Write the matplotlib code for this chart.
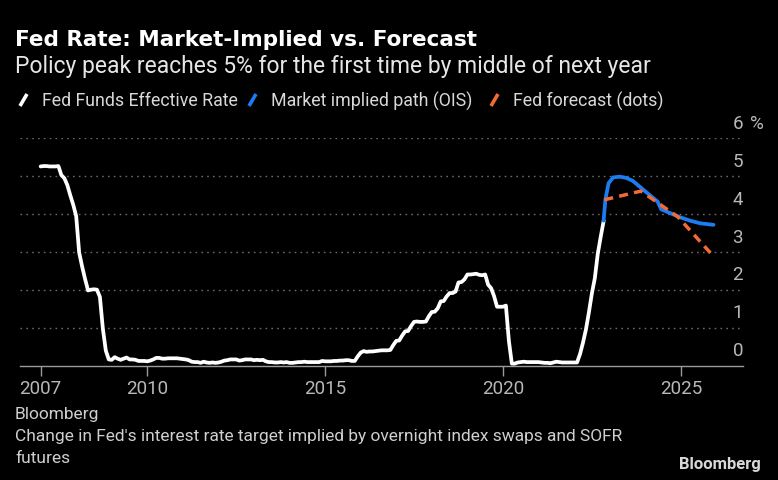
import numpy as np
import matplotlib
matplotlib.use('Agg')
import matplotlib.pyplot as plt
from matplotlib.lines import Line2D

# Fed funds effective rate, monthly, Jan 2007 - Nov 2022 (%)
ffer = [
    5.25, 5.26, 5.26, 5.25, 5.25, 5.25, 5.26, 5.02, 4.94, 4.76, 4.49, 4.24,  # 2007
    3.94, 2.98, 2.61, 2.28, 1.98, 2.00, 2.01, 2.00, 1.81, 0.97, 0.39, 0.16,  # 2008
    0.15, 0.22, 0.18, 0.15, 0.18, 0.21, 0.16, 0.16, 0.15, 0.12, 0.12, 0.12,  # 2009
    0.11, 0.13, 0.16, 0.20, 0.20, 0.18, 0.18, 0.19, 0.19, 0.19, 0.19, 0.18,  # 2010
    0.17, 0.16, 0.14, 0.10, 0.09, 0.09, 0.07, 0.10, 0.08, 0.07, 0.08, 0.07,  # 2011
    0.08, 0.10, 0.13, 0.14, 0.16, 0.16, 0.16, 0.13, 0.14, 0.16, 0.16, 0.16,  # 2012
    0.14, 0.15, 0.14, 0.15, 0.11, 0.09, 0.09, 0.08, 0.08, 0.09, 0.08, 0.09,  # 2013
    0.07, 0.07, 0.08, 0.09, 0.09, 0.10, 0.09, 0.09, 0.09, 0.09, 0.09, 0.12,  # 2014
    0.11, 0.11, 0.11, 0.12, 0.12, 0.13, 0.13, 0.14, 0.14, 0.12, 0.12, 0.24,  # 2015
    0.34, 0.38, 0.36, 0.37, 0.37, 0.38, 0.39, 0.40, 0.40, 0.40, 0.41, 0.54,  # 2016
    0.65, 0.66, 0.79, 0.90, 0.91, 1.04, 1.15, 1.16, 1.15, 1.15, 1.16, 1.30,  # 2017
    1.41, 1.42, 1.51, 1.69, 1.70, 1.82, 1.91, 1.91, 1.95, 2.19, 2.20, 2.27,  # 2018
    2.40, 2.40, 2.41, 2.42, 2.39, 2.38, 2.40, 2.13, 2.04, 1.83, 1.55, 1.55,  # 2019
    1.55, 1.58, 0.65, 0.05, 0.05, 0.08, 0.09, 0.10, 0.09, 0.09, 0.09, 0.09,  # 2020
    0.09, 0.08, 0.07, 0.07, 0.06, 0.08, 0.10, 0.09, 0.08, 0.08, 0.08, 0.08,  # 2021
    0.08, 0.08, 0.30, 0.60, 0.95, 1.40, 1.90, 2.30, 2.95, 3.40, 3.82,        # 2022
]
ffer_x = 2007 + np.arange(len(ffer)) / 12

# market implied path (OIS / SOFR futures)
ois_x = [2022.83, 2022.88, 2022.97, 2023.1, 2023.28, 2023.46, 2023.65, 2023.84,
         2024.12, 2024.35, 2024.45, 2024.7, 2024.98, 2025.26, 2025.55, 2025.92]
ois = [3.82, 4.37, 4.81, 4.96, 4.98, 4.95, 4.87, 4.72,
       4.5, 4.32, 4.12, 4.02, 3.91, 3.82, 3.75, 3.71]

# Fed dot plot median
dots_x = [2022.85, 2023.88, 2024.92, 2025.92]
dots = [4.37, 4.6, 3.92, 2.88]

yticks = [0, 1, 2, 3, 4, 5, 6]
xticks = [2007, 2010, 2015, 2020, 2025]

plt.rcParams['font.family'] = ['Roboto', 'DejaVu Sans']

WHITE = '#ffffff'
BLUE = '#1c7cf2'
ORANGE = '#f26a36'
GREY = '#b8b8b8'

W, H = 778, 481
fig = plt.figure(figsize=(W / 100, H / 100), dpi=100, facecolor='black')
ax = fig.add_axes([20 / W, 1 - 366.5 / H, (743 - 20) / W, (366.5 - 139) / H])
ax.set_facecolor('black')

for v in yticks[1:]:
    ax.axhline(v, color='#6a6a6a', lw=1, ls=(0, (1.2, 3)), zorder=1)

ax.plot(ffer_x, ffer, color=WHITE, lw=2.7, solid_capstyle='round', zorder=3)
ax.plot(ois_x, ois, color=BLUE, lw=2.7, solid_capstyle='round', zorder=4)
ax.plot(dots_x, dots, color=ORANGE, lw=2.5, ls=(0, (2.6, 1.8)), zorder=5)

ax.set_xlim(2006.42, 2026.75)
ax.set_ylim(0, 6)
for s in ['top', 'right', 'left']:
    ax.spines[s].set_visible(False)
ax.spines['bottom'].set_color('#9a9a9a')
ax.spines['bottom'].set_linewidth(1)
ax.set_yticks([])
ax.set_xticks(xticks)
ax.set_xticklabels([str(t) for t in xticks], fontsize=13.5)
ax.tick_params(axis='x', colors='#9a9a9a', length=7, width=1, pad=3, labelcolor=GREY)

for v in yticks:
    ax.text(1.0, v + 0.4, str(v), transform=ax.get_yaxis_transform(),
            ha='right', va='center', color=GREY, fontsize=13.5, clip_on=False)
ax.text(1.01, 6.4, '%', transform=ax.get_yaxis_transform(),
        ha='left', va='center', color=GREY, fontsize=13.5, clip_on=False)

fig.text(15 / W, 1 - 40 / H, 'Fed Rate: Market-Implied vs. Forecast', color=WHITE,
         fontsize=15.5, fontweight='bold', va='center', family='DejaVu Sans')
fig.text(15 / W, 1 - 66 / H, 'Policy peak reaches 5% for the first time by middle of next year',
         color='#e6e6e6', fontsize=16.5, va='center')

# legend
items = [(20, 'Fed Funds Effective Rate', WHITE),
         (249, 'Market implied path (OIS)', BLUE),
         (491, 'Fed forecast (dots)', ORANGE)]
for x0, lab, col in items:
    fig.add_artist(Line2D([x0 / W, (x0 + 7) / W], [1 - 107 / H, 1 - 95 / H],
                          color=col, lw=2.6, solid_capstyle='butt'))
    fig.text((x0 + 22) / W, 1 - 101 / H, lab, color='#d8d8d8', fontsize=12.8, va='center')

fig.text(15 / W, 1 - 415 / H, 'Bloomberg', color='#cfcfcf', fontsize=12.5, va='center')
fig.text(15 / W, 1 - 437 / H,
         "Change in Fed's interest rate target implied by overnight index swaps and SOFR",
         color='#cfcfcf', fontsize=12.5, va='center')
fig.text(15 / W, 1 - 459 / H, 'futures', color='#cfcfcf', fontsize=12.5, va='center')
fig.text(761 / W, 1 - 465 / H, 'Bloomberg', color='#d8d8d8', fontsize=12,
         fontweight='bold', ha='right', va='center')

fig.savefig('out.png', dpi=100, facecolor='black')
